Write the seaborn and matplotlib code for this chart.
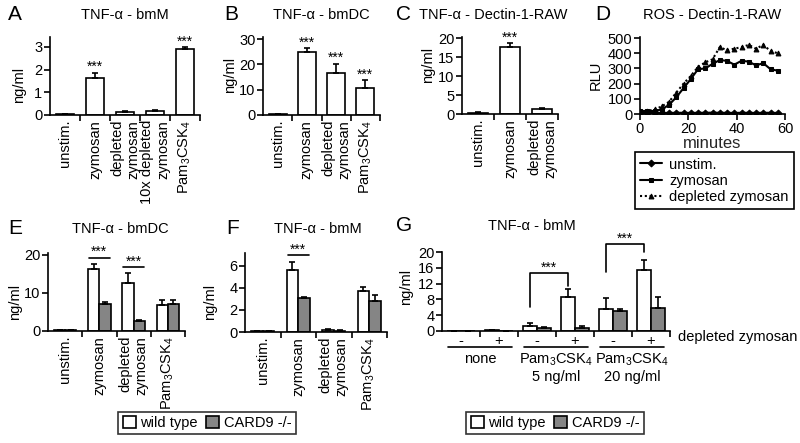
import matplotlib
matplotlib.use('Agg')
import matplotlib.pyplot as plt
import matplotlib.transforms as mtransforms
from matplotlib.patches import Patch
import numpy as np
import pandas as pd
import seaborn as sns

# ---------------- values ----------------
pam = 'Pam$_3$CSK$_4$'

# A: TNF-a bmM
a_cats = ['unstim.', 'zymosan', 'depleted\nzymosan', '10x depleted\nzymosan', pam]
a_vals = [0.05, 1.63, 0.13, 0.18, 2.93]
a_errs = [0.01, 0.24, 0.03, 0.04, 0.07]
a_sig = [False, True, False, False, True]

# B: TNF-a bmDC
b_cats = ['unstim.', 'zymosan', 'depleted\nzymosan', pam]
b_vals = [0.4, 25.0, 16.7, 10.8]
b_errs = [0.1, 1.5, 3.6, 2.9]
b_sig = [False, True, True, True]

# C: TNF-a Dectin-1-RAW
c_cats = ['unstim.', 'zymosan', 'depleted\nzymosan']
c_vals = [0.3, 17.6, 1.3]
c_errs = [0.1, 1.0, 0.25]
c_sig = [False, True, False]

# D: ROS kinetics
d_minutes = [0, 3, 6, 9, 12, 15, 18, 21, 24, 27, 30, 33, 36, 39, 42, 45, 48, 51, 54, 57]
d_unstim = [8, 8, 7, 8, 7, 8, 8, 7, 8, 8, 9, 8, 8, 7, 8, 8, 7, 8, 8, 7]
d_zymosan = [20, 20, 20, 30, 60, 110, 170, 230, 295, 300, 330, 355, 350, 325, 350, 345, 320, 335, 295, 285]
d_depleted = [20, 20, 30, 50, 80, 140, 200, 250, 310, 340, 360, 440, 420, 430, 440, 455, 430, 455, 415, 400]

# E: TNF-a bmDC, wild type vs CARD9 -/-
e_cats = ['unstim.', 'zymosan', 'depleted\nzymosan', pam]
e_wt = [0.3, 16.2, 12.7, 6.8]
e_wt_err = [0.05, 1.3, 2.5, 1.3]
e_ko = [0.3, 7.0, 2.6, 7.0]
e_ko_err = [0.05, 0.5, 0.2, 1.1]
e_sig = {1: 19.3, 2: 16.8}

# F: TNF-a bmM, wild type vs CARD9 -/-
f_cats = ['unstim.', 'zymosan', 'depleted\nzymosan', pam]
f_wt = [0.08, 5.6, 0.2, 3.75]
f_wt_err = [0.02, 0.75, 0.05, 0.3]
f_ko = [0.08, 3.05, 0.12, 2.85]
f_ko_err = [0.02, 0.15, 0.03, 0.55]
f_sig = {1: 7.0}

# G: TNF-a bmM, Pam3CSK4 +/- depleted zymosan
g_keys = ['none -', 'none +', 'p5 -', 'p5 +', 'p20 -', 'p20 +']
g_ticks = ['-', '+', '-', '+', '-', '+']
g_groups = ['none', pam + '\n5 ng/ml', pam + '\n20 ng/ml']
g_wt = [0.1, 0.15, 1.2, 8.6, 5.65, 15.4]
g_wt_err = [0.02, 0.02, 0.7, 2.1, 2.75, 2.5]
g_ko = [0.1, 0.1, 0.75, 0.85, 5.05, 5.9]
g_ko_err = [0.02, 0.02, 0.25, 0.35, 0.6, 2.7]
# brackets: (left cat, right cat, height, left leg end, right leg end)
g_brackets = [(2, 3, 14.7, 6.0, 11.3), (4, 5, 22.0, 15.0, 20.0)]

grey = '#858585'

# ---------------- style ----------------
sns.set_theme(style='ticks')
plt.rcParams['font.family'] = ['Liberation Sans', 'DejaVu Sans']
plt.rcParams['mathtext.fontset'] = 'custom'
plt.rcParams['mathtext.rm'] = 'Liberation Sans'
plt.rcParams['mathtext.it'] = 'Liberation Sans:italic'
plt.rcParams['mathtext.bf'] = 'Liberation Sans:bold'
plt.rcParams['font.size'] = 10.5
plt.rcParams['axes.edgecolor'] = 'black'
plt.rcParams['axes.linewidth'] = 1.2
plt.rcParams['xtick.color'] = 'black'
plt.rcParams['ytick.color'] = 'black'
plt.rcParams['xtick.labelsize'] = 10.5
plt.rcParams['ytick.labelsize'] = 10.5
plt.rcParams['text.color'] = 'black'

W, H = 800, 443
fig = plt.figure(figsize=(8, 4.43), dpi=100)


def px_axes(left, top, right, bottom):
    return fig.add_axes([left / W, 1 - bottom / H, (right - left) / W, (bottom - top) / H])


def fig_text(x, y, s, **kw):
    fig.text(x / W, 1 - y / H, s, **kw)


def stars(ax, x, y):
    ax.annotate('***', (x, y), xytext=(0, 1), textcoords='offset points',
                ha='center', va='baseline', fontsize=10, annotation_clip=False)


def finish_bar_axis(ax, n, ytop, yticks, rot=90):
    ax.set_xlim(-0.5, n - 0.5)
    ax.set_ylim(0, ytop)
    ax.set_yticks(yticks)
    ax.set_xlabel('')
    ax.set_ylabel('')
    sns.despine(ax=ax)
    ax.set_xticks(np.arange(n) + 0.5, minor=True)
    ax.tick_params(axis='x', which='major', length=0, labelrotation=rot)
    ax.tick_params(axis='x', which='minor', length=4, width=1.2)
    ax.tick_params(axis='y', length=4, width=1.2, pad=1.5)
    for lbl in ax.get_xticklabels():
        lbl.set_multialignment('right')


def single_bars(ax, cats, vals, errs, sig, ytop, yticks):
    df = pd.DataFrame({'cond': cats, 'val': vals})
    sns.barplot(data=df, x='cond', y='val', color='white', edgecolor='black',
                linewidth=1.2, width=0.62, saturation=1, errorbar=None, ax=ax)
    xs = [p.get_x() + p.get_width() / 2 for p in ax.patches]
    ax.errorbar(xs, vals, yerr=[np.zeros(len(vals)), errs], fmt='none', ecolor='black',
                elinewidth=1.2, capsize=2.5, capthick=1.2)
    for x, v, e, s in zip(xs, vals, errs, sig):
        if s:
            stars(ax, x, v + e)
    finish_bar_axis(ax, len(cats), ytop, yticks)


def paired_bars(ax, keys, wt, wt_err, ko, ko_err, width):
    df = pd.DataFrame({'cond': keys * 2, 'val': wt + ko,
                       'geno': ['wild type'] * len(keys) + ['CARD9 -/-'] * len(keys)})
    sns.barplot(data=df, x='cond', y='val', hue='geno', palette=['white', grey],
                edgecolor='black', linewidth=1.2, width=width, saturation=1,
                errorbar=None, legend=False, ax=ax)
    xs = [p.get_x() + p.get_width() / 2 for p in ax.patches]
    ax.errorbar(xs, df['val'], yerr=[np.zeros(len(df)), wt_err + ko_err], fmt='none',
                ecolor='black', elinewidth=1.2, capsize=2.2, capthick=1.2)
    return xs


# ---------------- A ----------------
ax_a = px_axes(50, 37, 200, 115)
single_bars(ax_a, a_cats, a_vals, a_errs, a_sig, 3.44, [0, 1, 2, 3])

# ---------------- B ----------------
ax_b = px_axes(263, 37, 380, 115)
single_bars(ax_b, b_cats, b_vals, b_errs, b_sig, 30.8, [0, 10, 20, 30])

# ---------------- C ----------------
ax_c = px_axes(462, 37, 558, 114)
single_bars(ax_c, c_cats, c_vals, c_errs, c_sig, 20.3, [0, 5, 10, 15, 20])

# ---------------- D ----------------
ax_d = px_axes(640, 37, 785, 114)
d_order = ['unstim.', 'zymosan', 'depleted zymosan']
d_df = pd.DataFrame({
    'minutes': d_minutes * 3,
    'RLU': d_unstim + d_zymosan + d_depleted,
    'cond': [d_order[0]] * len(d_minutes) + [d_order[1]] * len(d_minutes) + [d_order[2]] * len(d_minutes),
})
sns.lineplot(data=d_df, x='minutes', y='RLU', hue='cond', style='cond', hue_order=d_order,
             style_order=d_order, palette={k: 'black' for k in d_order},
             markers={'unstim.': 'D', 'zymosan': 's', 'depleted zymosan': '^'},
             dashes={'unstim.': '', 'zymosan': '', 'depleted zymosan': (1, 1.3)},
             markersize=3.5, markeredgecolor='black', linewidth=1.5, ax=ax_d)
ax_d.set_xlim(0, 60)
ax_d.set_ylim(0, 507)
ax_d.set_xticks([0, 20, 40, 60])
ax_d.set_yticks([0, 100, 200, 300, 400, 500])
ax_d.set_ylabel('')
ax_d.set_xlabel('minutes', labelpad=0)
sns.despine(ax=ax_d)
ax_d.tick_params(length=4, width=1.2, pad=1.5)
sns.move_legend(ax_d, 'upper left', bbox_to_anchor=(-0.035, -0.5), title=None,
                frameon=True, fancybox=False, edgecolor='black', fontsize=10.5,
                handlelength=1.5, borderpad=0.35, labelspacing=0.15, handletextpad=0.5,
                borderaxespad=0)
ax_d.get_legend().get_frame().set_linewidth(1.2)
ax_d.get_legend().get_frame().set_alpha(1)

# ---------------- E ----------------
ax_e = px_axes(48, 253, 185, 331)
xs = paired_bars(ax_e, e_cats, e_wt, e_wt_err, e_ko, e_ko_err, 0.65)
finish_bar_axis(ax_e, len(e_cats), 20.5, [0, 10, 20])
for i, h in e_sig.items():
    ax_e.plot([i - 0.3, i + 0.3], [h, h], color='black', lw=1.2, clip_on=False)
    stars(ax_e, i, h)

# ---------------- F ----------------
ax_f = px_axes(245, 253, 387, 332)
xs = paired_bars(ax_f, f_cats, f_wt, f_wt_err, f_ko, f_ko_err, 0.65)
finish_bar_axis(ax_f, len(f_cats), 7.18, [0, 2, 4, 6])
for i, h in f_sig.items():
    ax_f.plot([i - 0.3, i + 0.3], [h, h], color='black', lw=1.2, clip_on=False)
    stars(ax_f, i, h)

# ---------------- G ----------------
ax_g = px_axes(442, 252, 670, 331)
xs = paired_bars(ax_g, g_keys, g_wt, g_wt_err, g_ko, g_ko_err, 0.72)
finish_bar_axis(ax_g, len(g_keys), 20, [0, 4, 8, 12, 16, 20], rot=0)
ax_g.set_xticks(range(len(g_keys)))
ax_g.set_xticklabels(g_ticks)
ax_g.tick_params(axis='x', which='major', pad=2)
for l, r, h, lb, rb in g_brackets:
    xl, xr = xs[l], xs[r]
    ax_g.plot([xl, xl, xr, xr], [lb, h, h, rb], color='black', lw=1.2, clip_on=False)
    stars(ax_g, (xl + xr) / 2, h)
trans = mtransforms.blended_transform_factory(ax_g.transData, ax_g.transAxes)
for k, name in enumerate(g_groups):
    c = 2 * k + 0.5
    ax_g.plot([c - 0.85, c + 0.85], [-0.2, -0.2], color='black', lw=1.2,
              transform=trans, clip_on=False)
    ax_g.text(c, -0.26, name, transform=trans, ha='center', va='top',
              multialignment='center', fontsize=10.5)
fig_text(678, 337, 'depleted zymosan', ha='left', va='center', fontsize=10.5)

# ---------------- legends for E/F and G ----------------
geno_handles = [Patch(facecolor='white', edgecolor='black', linewidth=1.2, label='wild type'),
                Patch(facecolor=grey, edgecolor='black', linewidth=1.2, label='CARD9 -/-')]
for cx in (207, 555):
    leg = fig.legend(handles=geno_handles, loc='center', bbox_to_anchor=(cx / W, 1 - 423 / H),
                     ncol=2, frameon=True, fancybox=False, edgecolor='black', fontsize=10.5,
                     handlelength=0.9, handleheight=0.9, handletextpad=0.3,
                     columnspacing=0.6, borderpad=0.3)
    leg.get_frame().set_linewidth(1.2)

# ---------------- titles, letters, axis labels ----------------
letters = [('A', 8, 15), ('B', 224, 15), ('C', 396, 15), ('D', 595, 15),
           ('E', 8, 229), ('F', 226, 229), ('G', 396, 226)]
for s, x, y in letters:
    fig_text(x, y, s, ha='left', va='center', fontsize=15)

titles = [(125, 15, 'TNF-α - bmM'), (321, 15, 'TNF-α - bmDC'), (493, 15, 'TNF-α - Dectin-1-RAW'),
          (712, 15, 'ROS - Dectin-1-RAW'), (120, 229, 'TNF-α - bmDC'), (318, 229, 'TNF-α - bmM'),
          (532, 226, 'TNF-α - bmM')]
for x, y, s in titles:
    fig_text(x, y, s, ha='center', va='center', fontsize=10.5)

ylabels = [(19, 85, 'ng/ml'), (230, 75, 'ng/ml'), (428, 65, 'ng/ml'), (596, 75, 'RLU'),
           (15, 302, 'ng/ml'), (210, 302, 'ng/ml'), (406, 287, 'ng/ml')]
for x, y, s in ylabels:
    fig_text(x, y, s, ha='center', va='center', rotation=90, fontsize=10.5)

fig.savefig('out.png', dpi=100, facecolor='white')
